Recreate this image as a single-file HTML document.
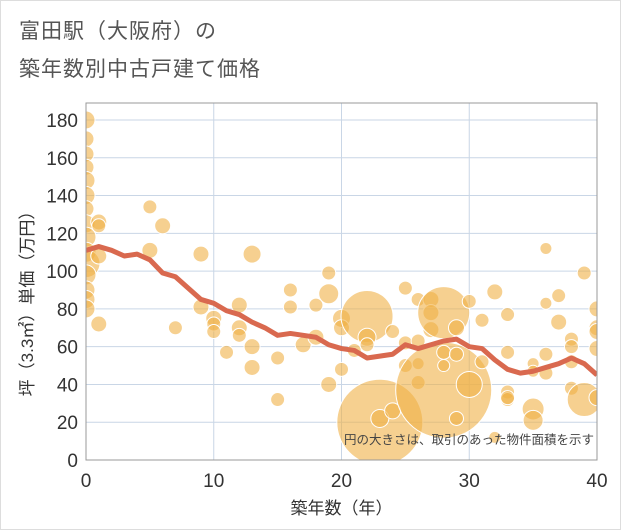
<!DOCTYPE html>
<html><head><meta charset="utf-8">
<style>
body{margin:0;background:#fff;font-family:"Liberation Sans","Noto Sans CJK JP",sans-serif;}
#wrap{position:relative;width:619px;height:528px;border:1px solid #ddd;background:#fff;overflow:hidden}
.title{position:absolute;left:18px;font-size:21px;color:#555;letter-spacing:1px}
</style></head><body>
<div id="wrap">
<div class="title" style="top:14px">富田駅（大阪府）の</div>
<div class="title" style="top:52px">築年数別中古戸建て価格</div>
<svg id="chart" width="621" height="530" style="position:absolute;left:-1px;top:-1px"></svg>
</div>
<script>
const xTicks=[0,10,20,30,40];
const yTicks=[0,20,40,60,80,100,120,140,160,180];
const lineAges=[0,1,2,3,4,5,6,7,8,9,10,11,12,13,14,15,16,17,18,19,20,21,22,23,24,25,26,27,28,29,30,31,32,33,34,35,36,37,38,39,40];
const linePrices=[111,113,111,108,109,106,99,97,91,85,83,79,77,73,70,66,67,66,65,61,59,58,54,55,56,61,59,61,63,64,60,59,53,48,46,47,49,51,54,51,45];
const bubbleAges=[0,0,0,0,0,0,0,0,0,0,0,0,0,0,0,1,1,1,1,5,5,6,7,9,9,10,10,10,11,12,12,12,13,13,13,15,15,16,16,17,18,18,19,19,19,20,20,20,21,22,22,22,23,23,24,24,25,25,25,26,26,26,26,27,27,27,28,28,28,28,29,29,29,30,30,31,31,32,32,33,33,33,33,33,35,35,35,35,36,36,36,36,37,37,38,38,38,38,39,39,40,40,40,40,40];
const bubblePrices=[180,170,162,155,148,140,133,125,118,110,104,98,90,85,80,126,124,108,72,134,111,124,70,109,81,75,72,68,57,82,70,66,109,60,49,54,32,90,81,61,82,65,99,88,40,75,70,48,58,76,65,61,20,22,68,26,91,62,50,85,63,51,41,85,78,69,78,37,57,50,70,56,22,40,84,52,74,89,12,77,57,36,32,33,27,21,51,47,112,83,56,46,87,73,64,60,52,38,99,32,80,70,68,59,33];
const bubbleSizes=[9,8,8,8,9,9,8,9,10,10,14,10,9,9,9,8,7,8,8,7,8,8,7,8,8,8,7,7,7,8,8,7,9,8,8,7,7,7,7,8,7,8,7,10,8,9,8,7,7,26,9,7,43,9,7,8,7,7,7,7,7,6,7,8,8,8,26,48,7,6,8,7,7,13,7,7,7,8,6,7,7,7,7,7,11,10,6,6,6,6,7,7,7,8,7,7,7,7,7,17,8,8,8,8,8];
const NS="http://www.w3.org/2000/svg";
const svg=document.getElementById('chart');
const L=86,R=597,T=103,B=460;
const xs=v=>L+(v/40)*(R-L);
const ys=v=>B-(v/180)*(460-120);
function mk(t,a,p){const e=document.createElementNS(NS,t);for(const k in a)e.setAttribute(k,a[k]);(p||svg).appendChild(e);return e;}
const bg=mk('rect',{x:L,y:T,width:R-L,height:B-T,fill:'#fff'});


xTicks.forEach(t=>{const g=mk('line',{x1:xs(t),x2:xs(t),y1:T,y2:B,stroke:'#c9d6e6','stroke-width':1});


const tx=mk('text',{x:xs(t),y:B+27,'text-anchor':'middle','font-size':19,fill:'#333'});tx.textContent=t;

});
yTicks.forEach(t=>{const g=mk('line',{x1:L,x2:R,y1:ys(t),y2:ys(t),stroke:'#c9d6e6','stroke-width':1});


const tx=mk('text',{x:L-8,y:ys(t)+7,'text-anchor':'end','font-size':19,fill:'#333'});tx.textContent=t;

});
const cg=mk('g',{});


const clip=mk('clipPath',{id:'pc'});mk('rect',{x:L,y:T,width:R-L,height:B-T},clip);
cg.setAttribute('clip-path','url(#pc)');
bubbleAges.forEach((a,i)=>{const c=mk('circle',{cx:xs(a),cy:ys(bubblePrices[i]),r:bubbleSizes[i],fill:'rgba(240,176,70,0.6)',stroke:'#fff','stroke-width':1},cg);

});
const pl=mk('polyline',{points:lineAges.map((a,i)=>xs(a)+','+ys(linePrices[i])).join(' '),fill:'none',stroke:'#d9694f','stroke-width':5,'stroke-linejoin':'round','clip-path':'url(#pc)'});


const fr=mk('rect',{x:L,y:T,width:R-L,height:B-T,fill:'none',stroke:'#999','stroke-width':1});


const note=mk('text',{x:R-3,y:444,'text-anchor':'end','font-size':12.5,fill:'#444'});note.textContent='円の大きさは、取引のあった物件面積を示す';


const xt=mk('text',{x:(L+R)/2,y:514,'text-anchor':'middle','font-size':17,fill:'#333'});xt.textContent='築年数（年）';


const yt=mk('text',{x:0,y:0,'text-anchor':'middle','font-size':17,fill:'#333',transform:'translate(33,'+((T+B)/2+18)+') rotate(-90)'});yt.textContent='坪（3.3㎡）単価（万円）';


</script>
</body></html>
